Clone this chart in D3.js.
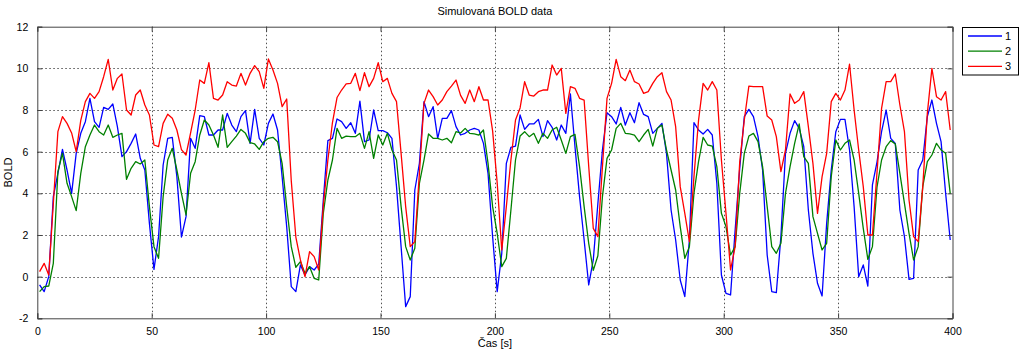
<!DOCTYPE html>
<html><head><meta charset="utf-8">
<script src="https://cdn.jsdelivr.net/npm/d3@7"></script>
<style>
html,body{margin:0;padding:0;background:#fff;}
svg{display:block;}
text{font-family:"Liberation Sans",Arial,sans-serif;fill:#000;}
</style></head>
<body><svg id="c" width="1024" height="357"></svg>
<script>
const title = "Simulovaná BOLD data";
const xLabel = "Čas [s]";
const yLabel = "BOLD";
const seriesNames = ["1","2","3"];
const seriesColors = ["#0000ff","#008000","#ff0000"];
const xTicks = [0,50,100,150,200,250,300,350,400];
const yTicks = [-2,0,2,4,6,8,10,12];

const series1 = [
-0.4,-0.72,0.0,3.84,4.96,6.11,5.12,4.0,5.92,6.88,7.44,8.56,7.44,7.17,8.13,8.03,8.29,7.2,5.76,6.0,
6.4,6.85,5.68,5.12,2.56,0.35,1.92,5.36,6.64,6.69,4.8,1.9,2.88,6.64,6.16,7.73,7.68,6.8,6.8,7.04,
7.04,7.84,7.28,6.96,7.68,7.97,6.4,8.03,6.64,6.32,7.36,7.81,7.04,4.8,2.4,-0.48,-0.72,0.56,0.08,0.48,
0.32,0.6,3.68,6.53,6.64,7.57,7.44,7.12,7.39,6.88,8.43,6.48,6.56,8.0,7.01,7.01,6.91,6.64,4.32,1.44,
-1.44,-0.96,4.16,5.44,8.4,7.68,8.16,6.64,7.6,7.6,7.97,7.2,6.8,6.88,7.04,7.12,7.04,6.4,4.96,1.92,
-0.72,1.12,5.44,6.21,6.27,7.76,7.07,7.33,7.33,7.55,6.72,7.49,7.17,6.56,7.28,6.88,8.77,6.24,3.84,1.76,
-0.4,0.8,3.5,6.08,7.87,7.68,7.33,8.13,7.28,7.87,7.39,8.35,7.79,7.68,6.88,7.12,7.36,5.92,3.2,1.76,
-0.16,-0.96,1.76,7.39,7.04,6.85,7.07,6.8,4.48,0.08,-0.8,-0.88,2.24,5.2,7.68,8.03,7.68,6.72,5.12,1.04,
-0.72,-0.77,1.92,5.92,6.88,7.49,7.12,6.24,3.2,1.12,-0.32,-0.93,2.56,5.12,6.96,7.55,7.55,6.08,3.36,0.0,
0.56,-0.45,4.4,5.5,6.96,8.0,6.64,6.4,3.2,1.92,-0.13,-0.08,5.12,5.6,7.68,8.48,7.36,6.48,4.0,1.76];

const series2 = [
-0.72,-0.48,-0.45,0.64,5.04,5.92,4.48,3.84,3.17,4.96,6.24,6.8,7.28,6.96,6.8,7.28,6.69,6.8,6.88,4.67,
5.2,5.52,5.41,5.6,3.36,1.44,0.88,3.84,5.6,6.16,5.12,4.0,2.96,4.96,5.52,6.8,7.52,7.28,6.8,6.21,
7.76,6.21,6.48,6.75,7.07,6.88,6.43,6.37,6.11,6.48,6.64,6.69,6.48,5.44,3.36,1.44,0.45,0.72,0.16,0.48,
-0.08,-0.16,3.04,4.64,5.6,7.12,6.64,6.75,6.72,6.72,6.88,6.16,6.96,5.68,6.8,6.32,6.88,6.08,5.6,3.36,
1.44,0.8,1.36,4.48,5.6,6.85,6.64,6.64,6.56,6.64,6.43,6.96,6.9,7.12,6.88,6.85,6.8,7.04,5.44,3.36,
2.08,0.48,0.88,3.2,5.6,6.75,6.96,6.72,6.88,6.4,6.88,6.64,7.04,7.17,6.56,5.92,6.72,6.83,5.28,3.36,
1.6,0.3,1.0,3.84,5.68,6.08,7.12,7.36,6.88,6.85,6.8,6.48,6.8,7.07,6.27,7.12,7.28,6.08,5.12,4.16,
2.4,0.88,1.44,4.0,5.52,6.69,6.32,6.27,5.28,3.04,2.4,1.04,1.44,4.0,5.92,6.75,6.88,6.48,5.28,3.36,
1.44,1.12,1.6,4.0,5.28,6.4,7.33,5.76,5.44,2.88,2.08,1.28,1.6,4.8,6.56,6.08,6.4,6.56,5.6,4.0,
2.32,0.83,1.44,4.3,5.6,6.24,6.53,6.37,4.96,3.52,2.08,0.8,1.44,4.32,5.52,5.84,6.4,6.08,5.92,4.0];

const series3 = [
0.24,0.64,0.08,3.5,6.96,7.68,7.36,6.9,6.0,7.5,8.4,8.8,8.56,8.88,9.6,10.43,8.96,9.52,9.73,8.0,
7.76,8.72,8.96,8.24,7.76,6.32,6.24,7.36,7.8,7.6,7.04,6.1,5.84,6.9,8.0,9.44,9.28,10.27,8.56,8.48,
8.72,9.36,9.2,9.15,9.76,9.2,9.76,10.13,9.84,9.04,10.45,9.92,9.28,8.16,8.53,4.6,1.9,0.8,0.0,1.2,
0.96,0.32,3.4,5.6,7.4,8.6,8.96,9.25,9.28,9.76,8.93,9.79,9.12,9.52,10.27,9.36,9.52,8.8,8.4,5.92,
3.36,1.44,1.68,4.96,8.32,8.96,8.64,8.24,8.48,8.88,9.15,9.44,8.7,8.32,8.96,8.4,9.12,8.48,8.48,7.0,
4.5,1.28,3.36,5.6,7.52,8.1,9.36,8.72,8.67,8.88,8.96,8.96,10.16,9.68,10.0,7.84,9.12,9.04,8.56,8.48,
5.3,2.32,1.92,5.28,8.56,9.28,10.43,9.6,9.41,9.92,9.36,9.25,8.8,8.88,9.28,9.6,9.79,8.88,8.48,7.2,
4.32,3.04,1.68,4.8,7.5,9.28,8.96,9.36,8.96,5.6,3.04,0.32,1.44,5.5,7.52,9.15,9.12,9.12,9.12,7.71,
7.52,6.72,5.04,6.08,8.77,8.32,8.48,8.88,7.2,5.44,3.04,4.8,5.92,8.4,8.8,8.48,8.96,10.2,8.0,6.08,
4.32,2.0,2.0,5.0,8.08,9.36,9.36,9.73,8.24,6.96,3.68,1.92,1.68,4.32,7.84,10.0,8.64,8.48,8.88,7.04];

const sampleStep = 2;          // seconds between samples
const time = d3.range(series1.length).map(i => 1 + i * sampleStep);
const allSeries = [series1, series2, series3];

const svg = d3.select("#c");
const L = 37.3, R = 952.5, T = 26.7, B = 318.3;
const x = d3.scaleLinear().domain([0,400]).range([L,R]);
const y = d3.scaleLinear().domain([-2,12]).range([B,T]);

// white plot background
svg.append("rect").attr("x",L).attr("y",T).attr("width",R-L).attr("height",B-T).attr("fill","#fff");

// grid
const grid = svg.append("g").attr("stroke","#000").attr("stroke-width",0.8).attr("stroke-dasharray","1.5,2.5").attr("opacity",0.85);
xTicks.slice(1,-1).forEach(v=>{
  grid.append("line").attr("x1",Math.round(x(v))+0.5).attr("x2",Math.round(x(v))+0.5).attr("y1",T).attr("y2",B);
});
yTicks.slice(1,-1).forEach(v=>{
  grid.append("line").attr("x1",L).attr("x2",R).attr("y1",Math.round(y(v))+0.5).attr("y2",Math.round(y(v))+0.5);
});

// lines
const line = d3.line().x((d,i)=>x(time[i])).y(d=>y(d));
const clipId = "clipPlot";
svg.append("clipPath").attr("id",clipId).append("rect").attr("x",L).attr("y",T).attr("width",R-L).attr("height",B-T);
const lg = svg.append("g").attr("clip-path",`url(#${clipId})`);
allSeries.forEach((s,k)=>{
  lg.append("path").datum(s).attr("d",line).attr("fill","none")
    .attr("stroke",seriesColors[k]).attr("stroke-width",1.3).attr("stroke-linejoin","round");
});

// axes with inward ticks
const tickLen = 5;
const axB = d3.axisBottom(x).tickValues(xTicks).tickSize(-tickLen).tickPadding(tickLen+4).tickFormat(d3.format("d"));
const axT = d3.axisTop(x).tickValues(xTicks).tickSize(-tickLen).tickFormat("");
const axL = d3.axisLeft(y).tickValues(yTicks).tickSize(-tickLen).tickPadding(tickLen+4).tickFormat(d=>d<0?"-"+Math.abs(d):d);
const axR = d3.axisRight(y).tickValues(yTicks).tickSize(-tickLen).tickFormat("");
function style(g){
  g.select(".domain").attr("stroke","#444");
  g.selectAll(".tick line").attr("stroke","#444");
  g.selectAll("text").attr("font-family","Liberation Sans, Arial, sans-serif").attr("font-size",10.5).attr("fill","#000");
}
svg.append("g").attr("transform",`translate(0,${B})`).call(axB).call(style);
svg.append("g").attr("transform",`translate(0,${T})`).call(axT).call(style);
svg.append("g").attr("transform",`translate(${L},0)`).call(axL).call(style);
svg.append("g").attr("transform",`translate(${R},0)`).call(axR).call(style);

// labels
svg.append("text").attr("x",(L+R)/2).attr("y",15).attr("text-anchor","middle").attr("font-size",11).text(title);
svg.append("text").attr("x",(L+R)/2).attr("y",347).attr("text-anchor","middle").attr("font-size",11).text(xLabel);
svg.append("text").attr("transform",`translate(12,${(T+B)/2}) rotate(-90)`).attr("text-anchor","middle").attr("font-size",11).text(yLabel);

// legend
const lgX = 962, lgY = 27.5, lgW = 56, lgH = 47.5;
const leg = svg.append("g");
leg.append("rect").attr("x",lgX+0.5).attr("y",lgY).attr("width",lgW).attr("height",lgH).attr("fill","#fff").attr("stroke","#000").attr("stroke-width",1);
seriesNames.forEach((n,k)=>{
  const yy = 36 + k*15.2;
  leg.append("line").attr("x1",968).attr("x2",1002).attr("y1",yy).attr("y2",yy).attr("stroke",seriesColors[k]).attr("stroke-width",1.3);
  leg.append("text").attr("x",1005).attr("y",yy+4).attr("font-size",11).text(n);
});
</script></body></html>
